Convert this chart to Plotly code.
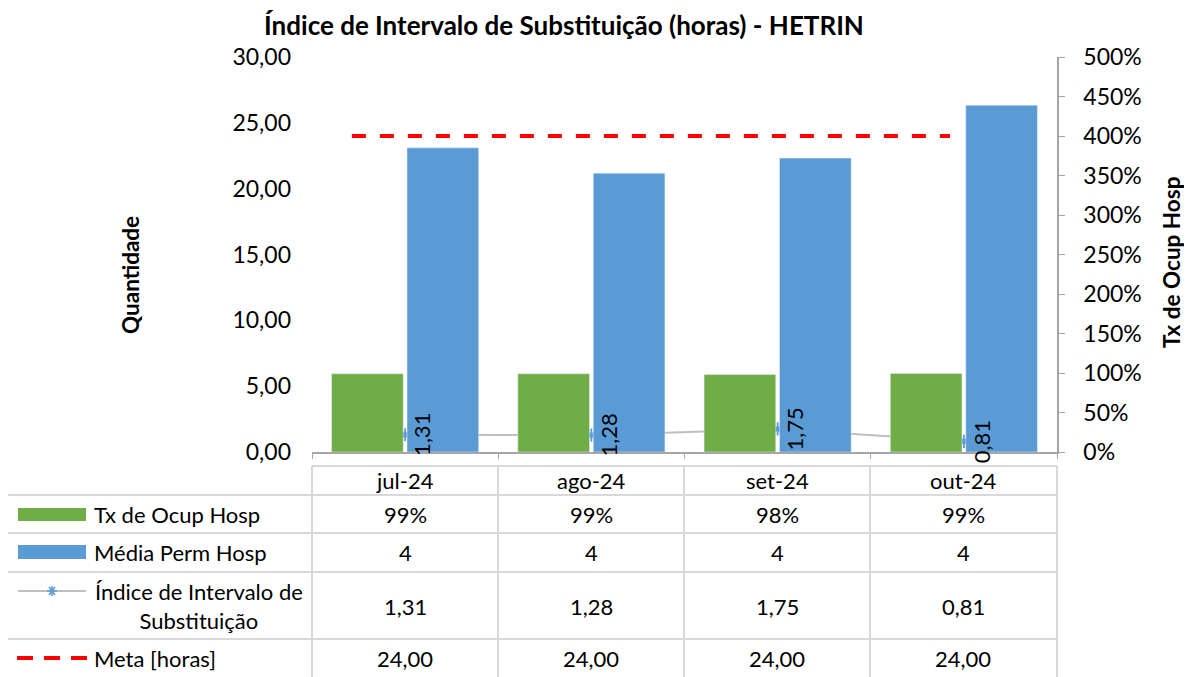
import plotly.graph_objects as go

# Dados
meses = ["jul-24", "ago-24", "set-24", "out-24"]
tx_ocup = [0.99, 0.99, 0.98, 0.993]
media_perm = [3.85, 3.53, 3.72, 4.39]
indice_subst = [1.31, 1.28, 1.75, 0.81]
meta_horas = [24.0, 24.0, 24.0, 24.0]

W, H = 1192, 677
OFF = 8  # margem do body da página
FONTE = "Lato"
VERDE = "#70AD47"
AZUL = "#5B9BD5"
VERMELHO = "#FF0000"
CINZA = "#BFBFBF"
GRADE = "#D9D9D9"


def px(x):
    return (x - OFF) / W


def py(y):
    return 1 - (y - OFF) / H


def br(v, casas=2):
    return f"{v:.{casas}f}".replace(".", ",")


fig = go.Figure()

fig.add_trace(go.Bar(
    x=meses, y=tx_ocup, name="Tx de Ocup Hosp",
    marker=dict(color=VERDE), yaxis="y2"
))
fig.add_trace(go.Bar(
    x=meses, y=media_perm, name="Média Perm Hosp",
    marker=dict(color=AZUL), yaxis="y2"
))
fig.add_trace(go.Scatter(
    x=meses, y=indice_subst, name="Índice de Intervalo de Substituição",
    mode="lines+markers",
    line=dict(color=CINZA, width=2),
    marker=dict(symbol="asterisk", size=11, color=AZUL, line=dict(color=AZUL, width=1.8)),
    yaxis="y"
))
fig.add_trace(go.Scatter(
    x=meses, y=meta_horas, name="Meta [horas]",
    mode="lines",
    line=dict(color=VERMELHO, width=4, dash="14px,14px"),
    xaxis="x2", yaxis="y"
))

# rótulos do índice (verticais)
for m, v in zip(meses, indice_subst):
    fig.add_annotation(
        x=m, y=v, xref="x", yref="y", text=br(v), textangle=-90,
        showarrow=False, xshift=17, xanchor="center", yanchor="middle",
        font=dict(family=FONTE, size=22, color="#000")
    )

# tabela de dados
shapes = []
linha = dict(color=GRADE, width=2)
cols = [312, 498, 684, 870, 1057]
for cx in cols:
    shapes.append(dict(type="line", xref="paper", yref="paper",
                       x0=px(cx), x1=px(cx), y0=py(466), y1=py(690), line=linha))
shapes.append(dict(type="line", xref="paper", yref="paper",
                   x0=px(7), x1=px(7), y0=py(495), y1=py(690), line=linha))
shapes.append(dict(type="line", xref="paper", yref="paper",
                   x0=px(312), x1=px(1057), y0=py(466), y1=py(466), line=linha))
for ry in [495, 533, 572, 639]:
    shapes.append(dict(type="line", xref="paper", yref="paper",
                       x0=px(7), x1=px(1057), y0=py(ry), y1=py(ry), line=linha))

# chaves da legenda
shapes.append(dict(type="rect", xref="paper", yref="paper", x0=px(18), x1=px(86),
                   y0=py(521), y1=py(508), fillcolor=VERDE, line=dict(width=0)))
shapes.append(dict(type="rect", xref="paper", yref="paper", x0=px(18), x1=px(86),
                   y0=py(559), y1=py(545), fillcolor=AZUL, line=dict(width=0)))
shapes.append(dict(type="line", xref="paper", yref="paper", x0=px(18), x1=px(86),
                   y0=py(591), y1=py(591), line=dict(color=CINZA, width=2)))
for dx0, dy0, dx1, dy1 in [(-5, 0, 5, 0), (-3, -4, 3, 4), (-3, 4, 3, -4), (0, -5, 0, 5)]:
    shapes.append(dict(type="line", xref="paper", yref="paper",
                       x0=px(52 + dx0), x1=px(52 + dx1), y0=py(591 + dy0), y1=py(591 + dy1),
                       line=dict(color=AZUL, width=1.5)))
shapes.append(dict(type="line", xref="paper", yref="paper", x0=px(17), x1=px(87),
                   y0=py(658), y1=py(658), line=dict(color=VERMELHO, width=4, dash="16px,11px")))

fonte_tab = dict(family=FONTE, size=22, color="#000")
rotulos = [
    ("Tx de Ocup Hosp", 514, "left"),
    ("Média Perm Hosp", 552, "left"),
    ("Índice de Intervalo de<br>Substituição", 606, "center"),
    ("Meta [horas]", 658, "left"),
]
for txt, yy, al in rotulos:
    if al == "left":
        fig.add_annotation(x=px(92), y=py(yy), xref="paper", yref="paper", text=txt,
                           showarrow=False, xanchor="left", yanchor="middle", font=fonte_tab)
    else:
        fig.add_annotation(x=px(199), y=py(yy), xref="paper", yref="paper", text=txt,
                           showarrow=False, xanchor="center", yanchor="middle", align="center",
                           font=fonte_tab)

linhas_valores = [
    (480, meses),
    (514, [f"{v:.0%}" for v in tx_ocup]),
    (552, [f"{v:.0f}" for v in media_perm]),
    (606, [br(v) for v in indice_subst]),
    (658, [br(v) for v in meta_horas]),
]
for yy, valores in linhas_valores:
    for i, t in enumerate(valores):
        fig.add_annotation(x=px((cols[i] + cols[i + 1]) / 2), y=py(yy), xref="paper", yref="paper",
                           text=t, showarrow=False, xanchor="center", yanchor="middle", font=fonte_tab)

# títulos dos eixos
fig.add_annotation(x=px(130), y=py(275), xref="paper", yref="paper", text="<b>Quantidade</b>",
                   textangle=-90, showarrow=False, xanchor="center", yanchor="middle",
                   font=dict(family=FONTE, size=22.5, color="#000"))
fig.add_annotation(x=px(1172), y=py(263), xref="paper", yref="paper", text="<b>Tx de Ocup Hosp</b>",
                   textangle=-90, showarrow=False, xanchor="center", yanchor="middle",
                   font=dict(family=FONTE, size=22.5, color="#000"))

fig.update_layout(
    width=W, height=H,
    margin=dict(l=0, r=0, t=0, b=0),
    paper_bgcolor="white", plot_bgcolor="white",
    separators=",.",
    showlegend=False,
    barmode="group", bargap=0.19, bargroupgap=0.05,
    shapes=shapes,
    font=dict(family=FONTE, size=22, color="#000"),
    title=dict(text="<b>Índice de Intervalo de Substituição (horas) - HETRIN</b>",
               x=px(564), xanchor="center", y=py(26), yanchor="middle",
               font=dict(family=FONTE, size=26, color="#000")),
    xaxis=dict(domain=[px(312), px(1057)], type="category", categoryorder="array",
               categoryarray=meses, showticklabels=False, showline=True, linecolor="#A6A6A6",
               linewidth=1.5, ticks="outside", tickson="boundaries", ticklen=5,
               tickcolor="#A6A6A6", showgrid=False, zeroline=False, automargin=False),
    xaxis2=dict(domain=[px(312), px(1057)], overlaying="x", type="category",
                categoryorder="array", categoryarray=meses, range=[-0.2, 3.537],
                visible=False),
    yaxis=dict(domain=[py(452), py(57)], range=[0, 30], dtick=5, tickformat=",.2f",
               showgrid=False, zeroline=False, showline=False, ticks="", automargin=False,
               ticklabelstandoff=20, tickfont=dict(family=FONTE, size=23)),
    yaxis2=dict(domain=[py(452), py(57)], overlaying="y", side="right", range=[0, 5],
                dtick=0.5, tickformat=".0%", showgrid=False, zeroline=False, automargin=False,
                showline=True, linecolor="#A6A6A6", linewidth=1.5, ticks="outside",
                ticklen=6, tickcolor="#A6A6A6", ticklabelstandoff=14,
                tickfont=dict(family=FONTE, size=23)),
)

fig.write_html("out.html")
